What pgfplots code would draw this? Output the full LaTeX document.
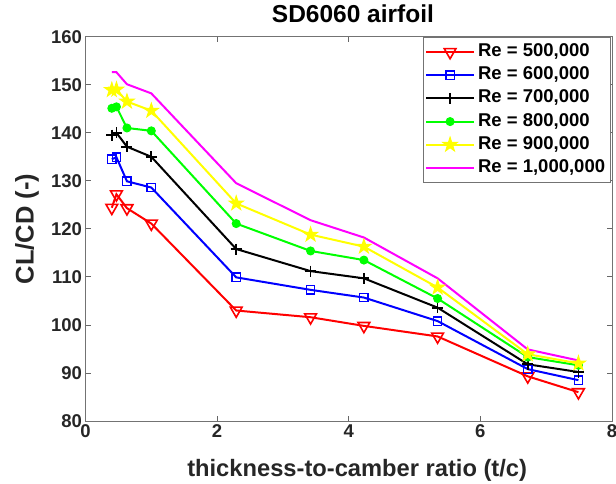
\documentclass[border=0pt]{standalone}
\usepackage{fontspec}
\setmainfont{Liberation Sans}
\usepackage{pgfplots}
\pgfplotsset{compat=1.18}

\definecolor{mred}{RGB}{255,0,0}
\definecolor{mblue}{RGB}{0,0,255}
\definecolor{mgreen}{RGB}{0,255,0}
\definecolor{myellow}{RGB}{255,255,0}
\definecolor{mmagenta}{RGB}{255,0,255}

\pgfdeclareplotmark{fstar}{%
  \pgfpathmoveto{\pgfpointpolar{90}{\pgfplotmarksize}}%
  \pgfpathlineto{\pgfpointpolar{126}{0.382\pgfplotmarksize}}%
  \pgfpathlineto{\pgfpointpolar{162}{\pgfplotmarksize}}%
  \pgfpathlineto{\pgfpointpolar{198}{0.382\pgfplotmarksize}}%
  \pgfpathlineto{\pgfpointpolar{234}{\pgfplotmarksize}}%
  \pgfpathlineto{\pgfpointpolar{270}{0.382\pgfplotmarksize}}%
  \pgfpathlineto{\pgfpointpolar{306}{\pgfplotmarksize}}%
  \pgfpathlineto{\pgfpointpolar{342}{0.382\pgfplotmarksize}}%
  \pgfpathlineto{\pgfpointpolar{18}{\pgfplotmarksize}}%
  \pgfpathlineto{\pgfpointpolar{54}{0.382\pgfplotmarksize}}%
  \pgfpathclose
  \pgfusepathqfillstroke
}

\begin{document}
\begin{tikzpicture}
\begin{axis}[
  name=ax,
  scale only axis, width=526.5pt, height=384.3pt,
  xmin=0, xmax=8, ymin=80, ymax=160,
  xtick={0,2,4,6,8}, ytick={80,90,...,160},
  tick align=inside, major tick length=5pt,
  axis line style={black!55, line width=0.8pt},
  every tick/.style={black!60, line width=0.8pt},
  tick label style={font=\fontsize{18.5}{20}\selectfont\bfseries, text=black!85},
  /pgf/number format/assume math mode=true,
  title={SD6060 airfoil},
  title style={font=\fontsize{24.5}{27}\selectfont\bfseries, at={(axis description cs:0.508,1.044)}, anchor=center},
  xlabel={thickness-to-camber ratio (t/c)},
  xlabel style={font=\fontsize{23.7}{26}\selectfont\bfseries, text=black!85, at={(axis description cs:0.516,-0.1275)}, anchor=center},
  ylabel={CL/CD (-)},
  ylabel style={font=\fontsize{25.5}{28}\selectfont\bfseries, text=black!85, at={(axis description cs:-0.111,0.5)}, anchor=center},
  legend style={at={(axis description cs:0.997,0.999)}, anchor=north east, draw=black!55, line width=0.6pt,
    font=\fontsize{18.5}{20}\selectfont\bfseries, inner xsep=2pt, inner ysep=3pt, row sep=0pt,
    nodes={inner ysep=2.6pt, inner xsep=3pt, text height=13.5pt, text depth=4.5pt, anchor=west}},
  legend cell align=left,
  legend image code/.code={\draw[mark repeat=2,mark phase=2,#1] plot coordinates {(0pt,0pt) (24pt,0pt) (48pt,0pt)};},
]
\addplot[mred, line width=2pt, mark=triangle, mark size=6.8pt, mark options={solid, rotate=180, line width=1.6pt}] coordinates {
(0.40,124.4) (0.47,127.2) (0.63,124.3) (1.0,121.1) (2.29,103.0) (3.42,101.6) (4.23,99.8) (5.35,97.6) (6.72,89.3) (7.49,86.0)};
\addlegendentry{Re = 500,000}
\addplot[mblue, line width=2pt, mark=square, mark size=4.2pt, mark options={solid, line width=1.4pt}] coordinates {
(0.40,134.5) (0.47,134.9) (0.63,129.9) (1.0,128.6) (2.29,109.9) (3.42,107.3) (4.23,105.7) (5.35,100.8) (6.72,90.8) (7.49,88.5)};
\addlegendentry{Re = 600,000}
\addplot[black, line width=2pt, mark=+, mark size=5.5pt, mark options={solid, line width=1.8pt}] coordinates {
(0.40,139.5) (0.47,140.0) (0.63,137.1) (1.0,135.0) (2.29,115.8) (3.42,111.2) (4.23,109.7) (5.35,103.6) (6.72,91.8) (7.49,90.2)};
\addlegendentry{Re = 700,000}
\addplot[mgreen, line width=2pt, mark=*, mark size=4pt, mark options={solid, line width=1pt}] coordinates {
(0.40,145.1) (0.47,145.4) (0.63,141.0) (1.0,140.4) (2.29,121.1) (3.42,115.4) (4.23,113.5) (5.35,105.5) (6.72,93.3) (7.49,91.6)};
\addlegendentry{Re = 800,000}
\addplot[myellow, line width=2pt, mark=fstar, mark size=7.5pt, mark options={solid, line width=1pt, fill=myellow}] coordinates {
(0.40,148.9) (0.47,149.0) (0.63,146.5) (1.0,144.6) (2.29,125.3) (3.42,118.8) (4.23,116.3) (5.35,107.8) (6.72,93.9) (7.49,92.0)};
\addlegendentry{Re = 900,000}
\addplot[mmagenta, line width=2pt] coordinates {
(0.40,152.6) (0.47,152.6) (0.63,150.1) (1.0,148.2) (2.29,129.5) (3.42,121.8) (4.23,118.2) (5.35,109.7) (6.72,94.9) (7.49,92.6)};
\addlegendentry{Re = 1,000,000}
\end{axis}
\pgfresetboundingbox
\path[use as bounding box] ([xshift=-85.5pt,yshift=-62pt]ax.south west) rectangle ([xshift=4pt,yshift=36.7pt]ax.north east);
\end{tikzpicture}
\end{document}
